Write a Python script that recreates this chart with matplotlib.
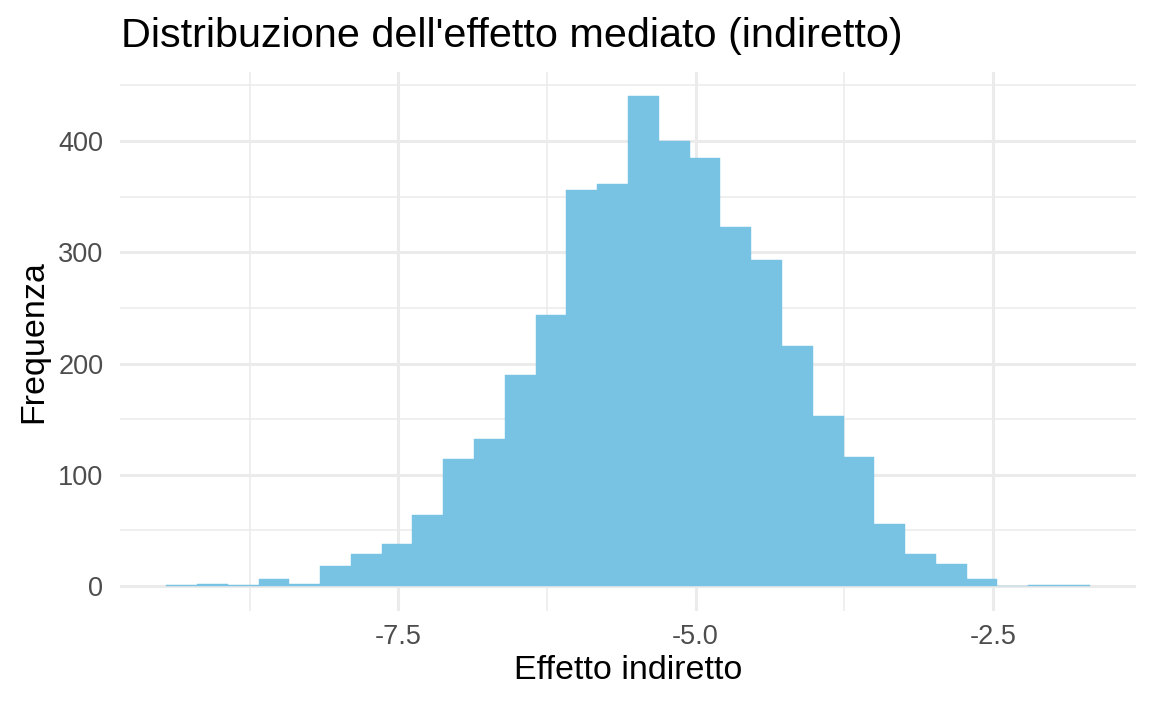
import numpy as np
import matplotlib
matplotlib.use("Agg")
import matplotlib.pyplot as plt
from matplotlib.ticker import FixedLocator

plt.rcParams['font.family'] = ['Liberation Sans', 'DejaVu Sans']

# Data (30 bins)
bin_start = -9.453
bin_width = 0.259
counts = [1, 2, 1, 6, 2, 18, 29, 38, 64, 114, 132, 190, 244, 356, 361,
          440, 400, 385, 323, 293, 216, 153, 116, 56, 29, 20, 6, 0, 1, 1]
x_ticks = [-7.5, -5.0, -2.5]
x_tick_labels = ["-7.5", "-5.0", "-2.5"]
y_ticks = [0, 100, 200, 300, 400]
title = "Distribuzione dell'effetto mediato (indiretto)"
xlabel = "Effetto indiretto"
ylabel = "Frequenza"

fill = "#78C2E4"
grid_col = "#EBEBEB"

fig = plt.figure(figsize=(11.52, 7.11), dpi=100)
ax = fig.add_axes([120/1152, (711-610.5)/711, (1136-120)/1152, (610.5-72)/711])

lefts = [bin_start + i*bin_width for i in range(len(counts))]
ax.bar(lefts, counts, width=bin_width, align='edge', color=fill,
       edgecolor=fill, linewidth=0.3, zorder=3)

xmin = bin_start
xmax = bin_start + bin_width*len(counts)
xr = xmax - xmin
ax.set_xlim(xmin - 0.05*xr, xmax + 0.05*xr)
ymax = max(counts)
ax.set_ylim(-0.05*ymax, ymax*1.05)

ax.xaxis.set_major_locator(FixedLocator(x_ticks))
ax.set_xticklabels(x_tick_labels)
ax.xaxis.set_minor_locator(FixedLocator([-8.75, -6.25, -3.75, -1.25]))
ax.yaxis.set_major_locator(FixedLocator(y_ticks))
ax.yaxis.set_minor_locator(FixedLocator([50, 150, 250, 350, 450]))

ax.grid(which='major', color=grid_col, linewidth=2.2, zorder=0)
ax.grid(which='minor', color=grid_col, linewidth=1.1, zorder=0)
ax.set_axisbelow(True)
for s in ax.spines.values():
    s.set_visible(False)
ax.tick_params(which='both', length=0)
ax.tick_params(axis='x', labelsize=19.5, labelcolor='#4D4D4D', pad=10)
ax.tick_params(axis='y', labelsize=19.5, labelcolor='#4D4D4D', pad=12)

ax.set_xlabel(xlabel, fontsize=24.5, color='black', labelpad=3)
ax.set_ylabel(ylabel, fontsize=24.5, color='black', labelpad=6.5)

fig.text(121/1152, 1 - 46.7/711, title, fontsize=29.8, color='black',
         ha='left', va='baseline')

fig.savefig("out.png", dpi=100, facecolor='white')
